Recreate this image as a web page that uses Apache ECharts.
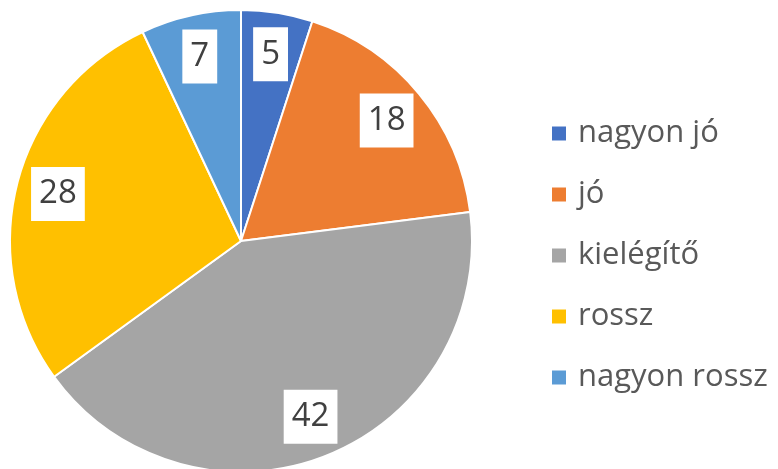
<!DOCTYPE html>
<html>
<head>
<meta charset="utf-8">
<script src="https://cdn.jsdelivr.net/npm/echarts@6/dist/echarts.min.js"></script>
<style>
  html, body { margin: 0; padding: 0; background: #ffffff; }
  #chart_1 { width: 778px; height: 469px; }
</style>
</head>
<body>
<div id="chart_1"></div>
<script>
var categories = ['nagyon jó', 'jó', 'kielégítő', 'rossz', 'nagyon rossz'];
var values = [5, 18, 42, 28, 7];
var colors = ['#4472C4', '#ED7D31', '#A5A5A5', '#FFC000', '#5B9BD5'];

var dom = document.getElementById("chart_1");
var myChart = echarts.init(dom);
var option = null;

var pieData = categories.map(function (name, i) {
  return { name: name, value: values[i], itemStyle: { color: colors[i] } };
});
// same slices again, invisible, only used to put the labels further out
var labelData = categories.map(function (name, i) {
  return { name: name, value: values[i] };
});

option = {
  backgroundColor: '#ffffff',
  animation: false,
  legend: {
    orient: 'vertical',
    left: 545,
    top: 113,
    itemWidth: 16,
    itemHeight: 16,
    itemGap: 30,
    icon: 'rect',
    selectedMode: false,
    textStyle: {
      color: '#595959',
      fontSize: 31,
      lineHeight: 31,
      fontFamily: 'Open Sans',
      padding: [0, 0, 0, 6]
    },
    data: categories
  },
  series: [
    {
      name: 'main',
      type: 'pie',
      center: [241, 241],
      radius: [0, 231],
      startAngle: 90,
      clockwise: true,
      silent: true,
      label: { show: false },
      labelLine: { show: false },
      itemStyle: {
        borderColor: '#ffffff',
        borderWidth: 2
      },
      data: pieData
    },
    {
      name: 'labels',
      type: 'pie',
      center: [241, 241],
      radius: [156, 216],
      startAngle: 90,
      clockwise: true,
      silent: true,
      itemStyle: { color: 'rgba(0,0,0,0)' },
      labelLine: { show: false },
      label: {
        show: true,
        position: 'inside',
        formatter: '{c}',
        color: '#404040',
        fontSize: 33,
        lineHeight: 33,
        fontFamily: 'Open Sans',
        backgroundColor: '#ffffff',
        padding: [11, 8, 10, 8]
      },
      data: labelData
    }
  ]
};

if (option && typeof option === "object") {
  myChart.setOption(option, true);
}
</script>
</body>
</html>
